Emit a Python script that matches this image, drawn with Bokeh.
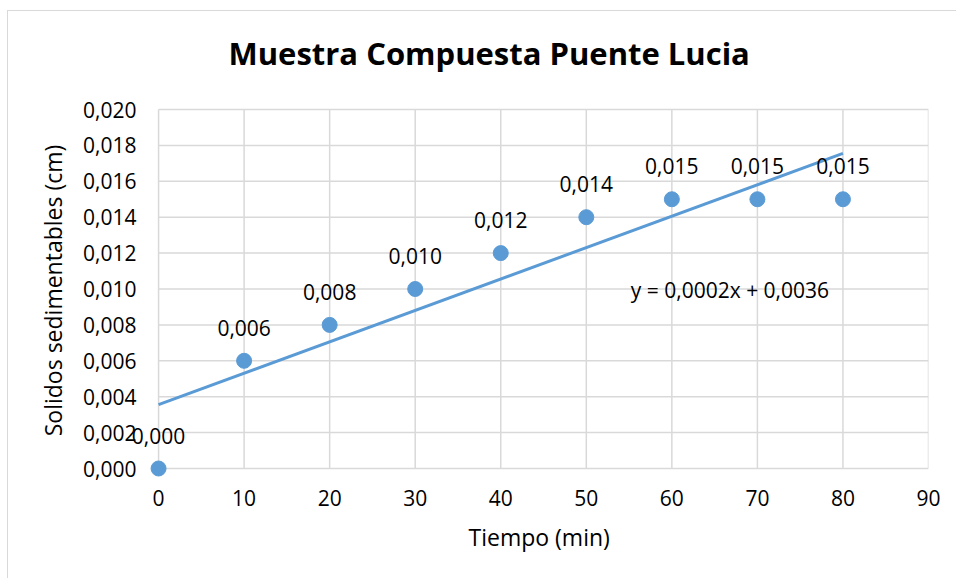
from bokeh.plotting import figure
from bokeh.models import (ColumnDataSource, FixedTicker, Label, Range1d, LabelSet, Title)
from bokeh.core.properties import value
from bokeh.embed import file_html
from bokeh.resources import INLINE
import numpy as np

# Sediment readings over time
tiempo = [0, 10, 20, 30, 40, 50, 60, 70, 80]
solidos = [0.000, 0.006, 0.008, 0.010, 0.012, 0.014, 0.015, 0.015, 0.015]
valor_txt = ["0,000", "0,006", "0,008", "0,010", "0,012", "0,014", "0,015", "0,015", "0,015"]

x_ticks = [0, 10, 20, 30, 40, 50, 60, 70, 80, 90]
y_ticks = [0.000, 0.002, 0.004, 0.006, 0.008, 0.010, 0.012, 0.014, 0.016, 0.018, 0.020]
y_tick_labels = ["0,000", "0,002", "0,004", "0,006", "0,008", "0,010",
                 "0,012", "0,014", "0,016", "0,018", "0,020"]

titulo = "Muestra Compuesta Puente Lucia"
eje_x = "Tiempo (min)"
eje_y = "Solidos sedimentables (cm)"
ecuacion = "y = 0,0002x + 0,0036"

FONT = "Open Sans"
AZUL = "#5b9bd5"
GRIS = "#d9d9d9"
TEXTO = "#000000"

# px per data unit of the plotting area
PX_X = 769 / 90
PX_Y = 359 / 0.020
PAD_L, PAD_B, PAD_T = 48, 22, 19   # spare room around the 0..90 x 0..0.020 box

x_lo, x_hi = x_ticks[0], x_ticks[-1]
y_lo, y_hi = y_ticks[0], y_ticks[-1]

p = figure(width=949, height=568, output_backend="svg", toolbar_location=None,
           x_range=Range1d(x_lo - PAD_L / PX_X, x_hi),
           y_range=Range1d(y_lo - PAD_B / PX_Y, y_hi + PAD_T / PX_Y),
           min_border_left=102, min_border_right=29,
           min_border_top=79, min_border_bottom=89,
           background_fill_color="white", border_fill_color="white",
           outline_line_color=None)
p.margin = (10, 0, 0, 7)
p.styles = {"border-left": f"1.5px solid {GRIS}", "border-top": f"1.5px solid {GRIS}"}

# axes sit on the frame edge; labels pulled in toward the origin
p.xaxis.bounds = (x_lo, x_hi)
p.yaxis.bounds = (y_lo, y_hi)
p.xaxis.ticker = FixedTicker(ticks=x_ticks)
p.yaxis.ticker = FixedTicker(ticks=y_ticks)
p.yaxis.major_label_overrides = {t: s for t, s in zip(y_ticks, y_tick_labels)}
for ax in (p.xaxis, p.yaxis):
    ax.axis_line_color = None
    ax.major_tick_line_color = None
    ax.minor_tick_line_color = None
    ax.major_label_text_font = FONT
    ax.major_label_text_font_size = "21px"
    ax.major_label_text_color = TEXTO
    ax.axis_label_text_font = FONT
    ax.axis_label_text_font_style = "normal"
    ax.axis_label_text_color = TEXTO
p.yaxis.axis_label_text_font_size = "23px"
p.xaxis.major_label_standoff = -7
p.yaxis.major_label_standoff = -32
p.yaxis.axis_label = eje_y
p.yaxis.axis_label_standoff = 11

# x-axis title centred under the 0..90 span
p.add_layout(Title(text=eje_x, align="left", offset=358, vertical_align="top",
                   standoff=24, text_font=FONT, text_font_size="23px",
                   text_font_style="normal", text_color=TEXTO), "below")

# grid limited to the 0..90 x 0..0.020 box (also serves as the axis lines)
p.xgrid.visible = False
p.ygrid.visible = False
p.segment(x0=x_ticks, y0=[y_lo] * len(x_ticks), x1=x_ticks, y1=[y_hi] * len(x_ticks),
          line_color=GRIS, line_width=1.5)
p.segment(x0=[x_lo] * len(y_ticks), y0=y_ticks, x1=[x_hi] * len(y_ticks), y1=y_ticks,
          line_color=GRIS, line_width=1.5)

# title
p.title.text = titulo
p.title.text_font = FONT
p.title.text_font_size = "31px"
p.title.text_font_style = "bold"
p.title.text_color = TEXTO
p.title.align = "left"
p.title.offset = 118
p.title.standoff = 34

# least-squares trend line over the measured range
xs = np.array(tiempo, dtype=float)
ys = np.array(solidos, dtype=float)
m, b = np.polyfit(xs, ys, 1)
tx = np.array([min(tiempo), max(tiempo)], dtype=float)
p.line(tx, m * tx + b, line_color=AZUL, line_width=3)

src = ColumnDataSource(dict(x=tiempo, y=solidos, t=valor_txt))
p.scatter("x", "y", source=src, size=15, fill_color=AZUL, line_color=AZUL)

p.add_layout(LabelSet(x="x", y="y", text="t", source=src, y_offset=33,
                      text_align="center", text_baseline="middle",
                      text_font=value(FONT), text_font_size="21px", text_color=TEXTO))

p.add_layout(Label(x=55.2, y=0.00997, text=ecuacion, text_align="left",
                   text_baseline="middle", text_font=FONT, text_font_size="21px",
                   text_color=TEXTO))

open("out.html", "w").write(file_html(p, INLINE))
